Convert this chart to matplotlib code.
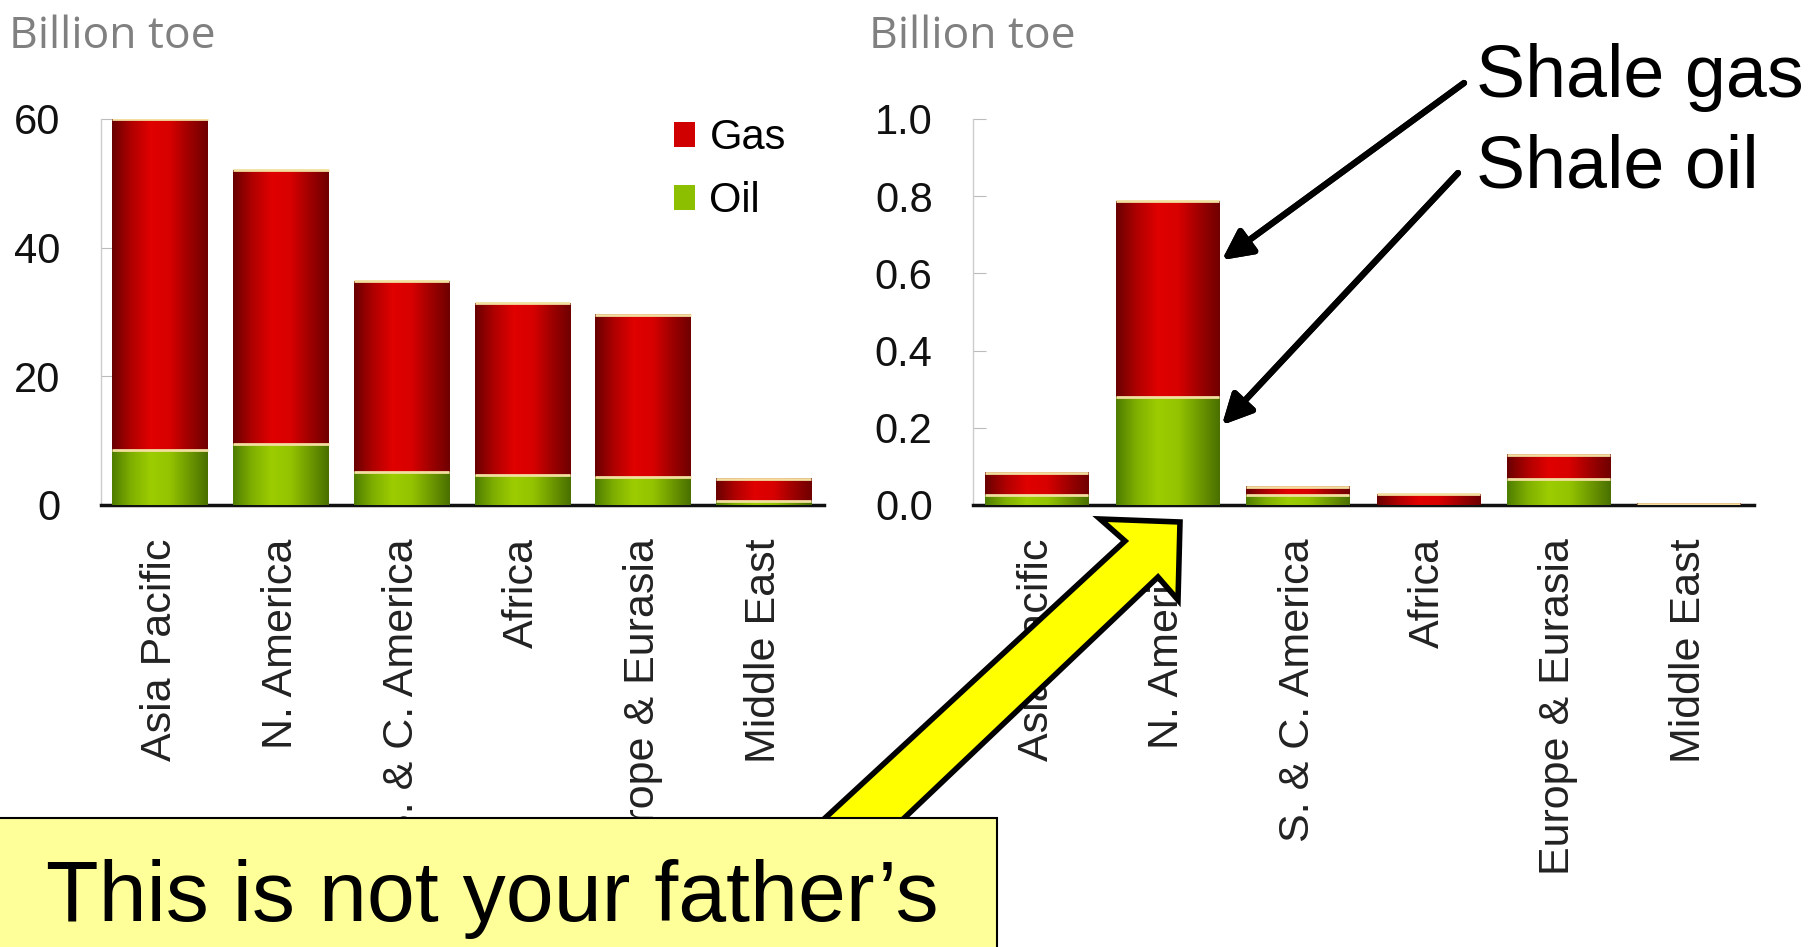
import numpy as np
import matplotlib
matplotlib.use("Agg")
import matplotlib.pyplot as plt
from matplotlib import font_manager
from matplotlib.colors import LinearSegmentedColormap
from matplotlib.patches import Patch, Polygon, Rectangle

regions = ["Asia Pacific", "N. America", "S. & C. America", "Africa",
           "Europe & Eurasia", "Middle East"]

# total resources (left) and shale (right), billion toe
total_oil = [8.6, 9.5, 5.2, 4.7, 4.4, 0.6]
total_gas = [51.4, 42.5, 29.6, 26.7, 25.2, 3.45]
shale_oil = [0.026, 0.28, 0.026, 0.0, 0.067, 0.0]
shale_gas = [0.057, 0.507, 0.021, 0.028, 0.063, 0.003]

left_ticks = [0, 20, 40, 60]
right_ticks = [0.0, 0.2, 0.4, 0.6, 0.8, 1.0]

W, H = 1817, 947
fig = plt.figure(figsize=(W / 100, H / 100), dpi=100)

names = {f.name for f in font_manager.fontManager.ttflist}
narrow = "Liberation Sans Narrow" in names

red_cm = LinearSegmentedColormap.from_list(
    "r", ["#6a0000", "#b00000", "#e00000", "#d80000", "#a00000", "#700000"])
green_cm = LinearSegmentedColormap.from_list(
    "g", ["#4f7d00", "#80b000", "#9ccc00", "#94c400", "#6f9a00", "#4a7000"])
grad = np.linspace(0, 1, 200)[np.newaxis, :]


def fx(px):
    return px / W


def fy(py):
    return 1 - py / H


def draw_panel(ax, oil, gas, ylim, ticks, fmt):
    x = np.arange(len(regions))
    b1 = ax.bar(x, oil, width=0.79, color="#8cbf00", zorder=2)
    b2 = ax.bar(x, gas, bottom=oil, width=0.79, color="#d00000", zorder=2)
    for bars, cm in ((b1, green_cm), (b2, red_cm)):
        for p in bars:
            if p.get_height() <= 0:
                continue
            x0, y0 = p.get_x(), p.get_y()
            ax.imshow(grad, extent=[x0, x0 + p.get_width(), y0, y0 + p.get_height()],
                      aspect="auto", cmap=cm, zorder=3)
            ax.hlines(y0 + p.get_height(), x0, x0 + p.get_width(),
                      color="#f2dfa0", lw=2, zorder=4)
    ax.set_xlim(-0.49, 5.5)
    ax.set_ylim(*ylim)
    ax.set_yticks(ticks)
    ax.set_yticklabels([fmt.format(t) for t in ticks])
    ax.set_xticks(x)
    ax.set_xticklabels(regions, rotation=90, fontsize=31, color="#222222",
                       family="Liberation Sans")
    ax.tick_params(axis="x", length=0, pad=24)
    ax.tick_params(axis="y", direction="in", length=9, color="#bbbbbb",
                   labelsize=30, pad=29, labelcolor="#111111")
    for lab in ax.get_yticklabels():
        lab.set_family("Liberation Sans")
    for s in ("top", "right"):
        ax.spines[s].set_visible(False)
    ax.spines["left"].set_color("#cccccc")
    ax.spines["left"].set_linewidth(1)
    ax.spines["bottom"].set_color("#111111")
    ax.spines["bottom"].set_linewidth(2.5)


ax1 = fig.add_axes([fx(101), fy(505), fx(824) - fx(101), fy(119) - fy(505)])
draw_panel(ax1, total_oil, total_gas, (0, 60), left_ticks, "{:d}")
ax2 = fig.add_axes([fx(973), fy(505), fx(1754) - fx(973), fy(119) - fy(505)])
draw_panel(ax2, shale_oil, shale_gas, (0, 1.0), right_ticks, "{:.1f}")

for xp in (9, 869):
    fig.text(fx(xp), fy(48), "Billion toe", fontsize=32, color="#808080",
             family="Open Sans", ha="left", va="baseline")

handles = [Patch(facecolor="#d00000"), Patch(facecolor="#8cbf00")]
fig.legend(handles, ["Gas", "Oil"], loc="upper left",
           bbox_to_anchor=(fx(674), fy(118)), bbox_transform=fig.transFigure,
           frameon=False, handlelength=0.5, handleheight=0.55,
           handletextpad=0.35, labelspacing=0.55, borderpad=0, borderaxespad=0,
           prop={"family": "Liberation Sans", "size": 30})

# shale callouts
fig.text(fx(1476), fy(97), "Shale gas", fontsize=53, family="Liberation Sans",
         va="baseline", ha="left")
fig.text(fx(1476), fy(187), "Shale oil", fontsize=53, family="Liberation Sans",
         va="baseline", ha="left")
arrow = dict(arrowstyle="-|>", lw=4.5, color="black", mutation_scale=45,
             shrinkA=0, shrinkB=0)
fig.add_artist(plt.annotate("", xy=(fx(1222), fy(260)), xytext=(fx(1464), fy(83)),
                            xycoords=fig.transFigure, textcoords=fig.transFigure,
                            arrowprops=arrow))
fig.add_artist(plt.annotate("", xy=(fx(1222), fy(425)), xytext=(fx(1458), fy(173)),
                            xycoords=fig.transFigure, textcoords=fig.transFigure,
                            arrowprops=arrow))

# big yellow arrow
pts = [(1180, 522), (1100, 519), (1125, 541), (758, 880), (839, 880),
       (1158, 577), (1178, 600)]
fig.add_artist(Polygon([(fx(a), fy(b)) for a, b in pts], closed=True,
                       transform=fig.transFigure, facecolor="#ffff00",
                       edgecolor="black", lw=4, zorder=10))

# callout box
fig.add_artist(Rectangle((fx(-5), fy(960)), fx(1002), fy(818) - fy(960),
                         transform=fig.transFigure, facecolor="#ffff99",
                         edgecolor="black", lw=1.5, zorder=11))
if narrow:
    fig.text(fx(46), fy(920), "This is not your father\u2019s", fontsize=74,
             family="Liberation Sans Narrow", va="baseline", ha="left", zorder=12)
else:
    fig.text(fx(46), fy(921), "This is not your father\u2019s", fontsize=62,
             family="Liberation Sans", va="baseline", ha="left", zorder=12)

fig.savefig("out.png", dpi=100)
